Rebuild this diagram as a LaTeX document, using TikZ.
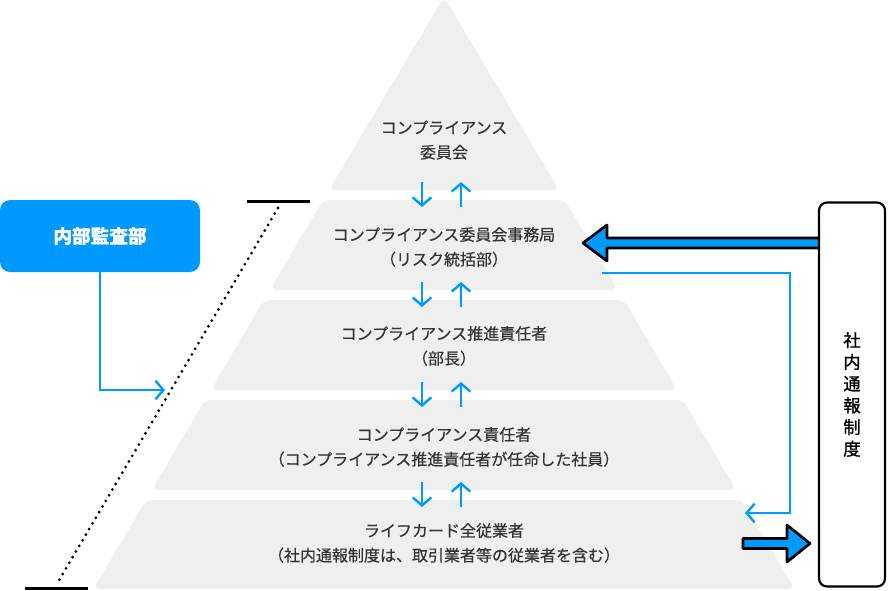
\documentclass[tikz,border=0pt]{standalone}
\usepackage{fontspec}
\newfontfamily\jp{Noto Sans CJK JP}[FakeBold=0.4]
\newfontfamily\jpmed{Noto Sans CJK JP}[FakeBold=1.2]
\usetikzlibrary{arrows.meta}
\definecolor{tiergray}{HTML}{EFEFEF}
\definecolor{auditblue}{HTML}{0099FF}
\definecolor{labelgray}{HTML}{333333}

\begin{document}
\begin{tikzpicture}[x=0.75pt, y=-0.75pt, >={Straight Barb[length=6pt,width=14pt]},
    tier/.style={fill=tiergray, rounded corners=5pt},
    tierlabel/.style={text=labelgray, align=center, font=\jp\fontsize{12}{18.5}\selectfont},
    flow/.style={auditblue, line width=1.8pt},
    fatarrow/.style={fill=auditblue, draw=black, line width=2pt, line join=round}]
    \useasboundingbox (0,0) rectangle (888,590);

    \fill[tier] (444,-3) -- (559,190) -- (329,190) -- cycle;
    \foreach \ya/\yb in {200/290, 300/390, 400/490, 500/589}
        \fill[tier] ({441-0.59*\ya},\ya) -- ({447+0.59*\ya},\ya) -- ({447+0.59*\yb},\yb) -- ({441-0.59*\yb},\yb) -- cycle;

    \node[tierlabel] (committee) at (444,140) {コンプライアンス\\委員会};
    \node[tierlabel] (office) at (444,247) {コンプライアンス委員会事務局\\（リスク統括部）};
    \node[tierlabel] (promoter) at (444,346) {コンプライアンス推進責任者\\（部長）};
    \node[tierlabel] (officer) at (444,447) {コンプライアンス責任者\\（コンプライアンス推進責任者が任命した社員）};
    \node[tierlabel] (staff) at (444,543) {ライフカード全従業者\\（社内通報制度は、取引業者等の従業者を含む）};

    \foreach \g in {195,295,395,495} {
        \draw[flow,->] (422,\g-13) -- (422,\g+12);
        \draw[flow,->] (461,\g+12) -- (461,\g-13);
    }

    \node[fill=auditblue, rounded corners=7.5pt, minimum width=150pt, minimum height=54pt,
        text=white, font=\jp\bfseries\fontsize{14}{16}\selectfont] (audit) at (100,236) {内部監査部};
    \coordinate (auditin) at (165,390);
    \draw[flow,->] (audit.south) |- (auditin);

    \draw[line width=2.3pt, line cap=round, dash pattern=on 0pt off 4.9pt] (278,208) -- (58,582);
    \draw[line width=2.25pt] (247,201) -- (310,201);
    \draw[line width=2.25pt] (25,588.5) -- (88,588.5);

    \filldraw[fatarrow] (818,238) -- (607,238) -- (607,225) -- (583,243) -- (607,261) -- (607,248) -- (818,248);
    \filldraw[fatarrow] (743,538.5) -- (787,538.5) -- (787,525) -- (810,543.5) -- (787,562) -- (787,548.5) -- (743,548.5) -- cycle;

    \node[draw, line width=1.6pt, fill=white, rounded corners=6pt, minimum width=49.5pt, minimum height=288pt,
        align=center, font=\jpmed\fontsize{13}{16.3}\selectfont] (report) at (852,394.5) {社\\内\\通\\報\\制\\度};

    \coordinate (relayout) at (602,273);
    \coordinate (relayin) at (745,513);
    \draw[flow,->] (relayout) -- (790,273) |- (relayin);
\end{tikzpicture}
\end{document}
